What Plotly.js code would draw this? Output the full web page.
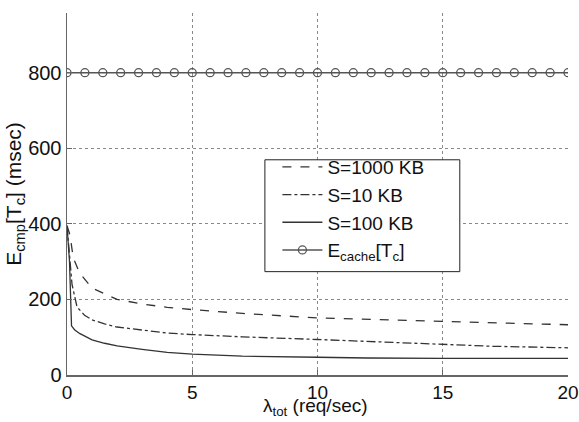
<!DOCTYPE html>
<html>
<head>
<meta charset="utf-8">
<script src="https://cdn.plot.ly/plotly-3.0.1.min.js"></script>
<style>html,body{margin:0;padding:0;background:#fff;}#chart{width:579px;height:422px;}</style>
</head>
<body>
<div id="chart"></div>
<script>
// Data
const x1000 = [0, 0.12, 0.25, 0.5, 1, 1.5, 2, 3, 4, 5, 7, 10, 12, 15, 17, 20];
const y1000 = [395, 370, 310, 270, 230, 214, 200, 188, 179, 173, 163, 151, 147, 142, 138, 133];

const x10 = [0, 0.1, 0.2, 0.4, 0.7, 1, 1.5, 2, 3, 4, 5, 7, 10, 12, 15, 17, 20];
const y10 = [395, 310, 240, 180, 158, 146, 135, 127, 118, 111, 107, 101, 94, 89, 80, 76, 72];

const x100 = [0, 0.1, 0.18, 0.3, 0.5, 1, 1.5, 2, 3, 4, 5, 7, 10, 12, 15, 20];
const y100 = [395, 300, 130, 120, 110, 93, 84, 77, 68, 60, 55, 50, 47, 45, 44, 44];

const xCache = [0, 0.714, 1.429, 2.143, 2.857, 3.571, 4.286, 5, 5.714, 6.429, 7.143, 7.857, 8.571, 9.286, 10,
  10.714, 11.429, 12.143, 12.857, 13.571, 14.286, 15, 15.714, 16.429, 17.143, 17.857, 18.571, 19.286, 20];
const yCache = [800, 800, 800, 800, 800, 800, 800, 800, 800, 800, 800, 800, 800, 800, 800,
  800, 800, 800, 800, 800, 800, 800, 800, 800, 800, 800, 800, 800, 800];

const names = ['S=1000 KB', 'S=10 KB', 'S=100 KB', 'E<sub>cache</sub>[T<sub>c</sub>]'];
const xTicks = [0, 5, 10, 15, 20];
const yTicks = [0, 200, 400, 600, 800];
const xTitle = 'λ<sub>tot</sub> (req/sec)';
const yTitle = 'E<sub>cmp</sub>[T<sub>c</sub>] (msec)';

const lineColor = '#333';
const traces = [
  {x: x1000, y: y1000, name: names[0], mode: 'lines', line: {color: lineColor, width: 1.3, dash: 'dash'}},
  {x: x10, y: y10, name: names[1], mode: 'lines', line: {color: lineColor, width: 1.3, dash: 'dashdot'}},
  {x: x100, y: y100, name: names[2], mode: 'lines', line: {color: lineColor, width: 1.3}},
  {x: xCache, y: yCache, name: names[3], mode: 'lines+markers',
   line: {color: '#555', width: 1.5},
   marker: {symbol: 'circle-open', size: 8, color: '#555', line: {width: 1.3}}}
];

const font = {family: 'Liberation Sans, Arial, sans-serif', color: '#111'};
const layout = {
  width: 579, height: 422,
  margin: {l: 67, r: 11, t: 13, b: 47},
  paper_bgcolor: '#fff', plot_bgcolor: '#fff',
  font: Object.assign({size: 20}, font),
  showlegend: true,
  legend: {
    x: 0.42, y: 0.46, xanchor: 'left', yanchor: 'middle',
    bgcolor: 'rgba(0,0,0,0)', borderwidth: 0,
    font: Object.assign({size: 19}, font),
    itemwidth: 40,
    tracegroupgap: 0
  },
  shapes: [{
    type: 'rect', xref: 'paper', yref: 'paper',
    x0: 0.395, x1: 0.784, y0: 0.2855, y1: 0.5945,
    fillcolor: '#fff', line: {color: '#222', width: 1}, layer: 'above'
  }],
  annotations: [{
    text: xTitle, xref: 'paper', yref: 'paper', x: 0.497, y: -0.1255,
    xanchor: 'center', yanchor: 'bottom', showarrow: false,
    borderpad: 0,
    font: Object.assign({size: 19}, font)
  }],
  xaxis: {
    range: [0, 20], tickvals: xTicks, ticktext: xTicks.map(String),
    showline: true, linecolor: '#666', linewidth: 1.5,
    ticks: 'inside', ticklen: 5, tickcolor: '#666',
    ticklabeloverflow: 'allow',
    showgrid: true, gridcolor: '#888', griddash: 'dot', gridwidth: 1,
    zeroline: false,
    tickfont: Object.assign({size: 19}, font)
  },
  yaxis: {
    range: [0, 958], tickvals: yTicks, ticktext: yTicks.map(String),
    showline: true, linecolor: '#666', linewidth: 1.5,
    ticks: 'inside', ticklen: 5, tickcolor: '#666',
    ticklabeloverflow: 'allow',
    showgrid: true, gridcolor: '#888', griddash: 'dot', gridwidth: 1,
    zeroline: false,
    tickfont: Object.assign({size: 20}, font),
    title: {text: yTitle, font: Object.assign({size: 21}, font), standoff: 0}
  }
};

Plotly.newPlot('chart', traces, layout, {displayModeBar: false, staticPlot: true});
</script>
</body>
</html>
